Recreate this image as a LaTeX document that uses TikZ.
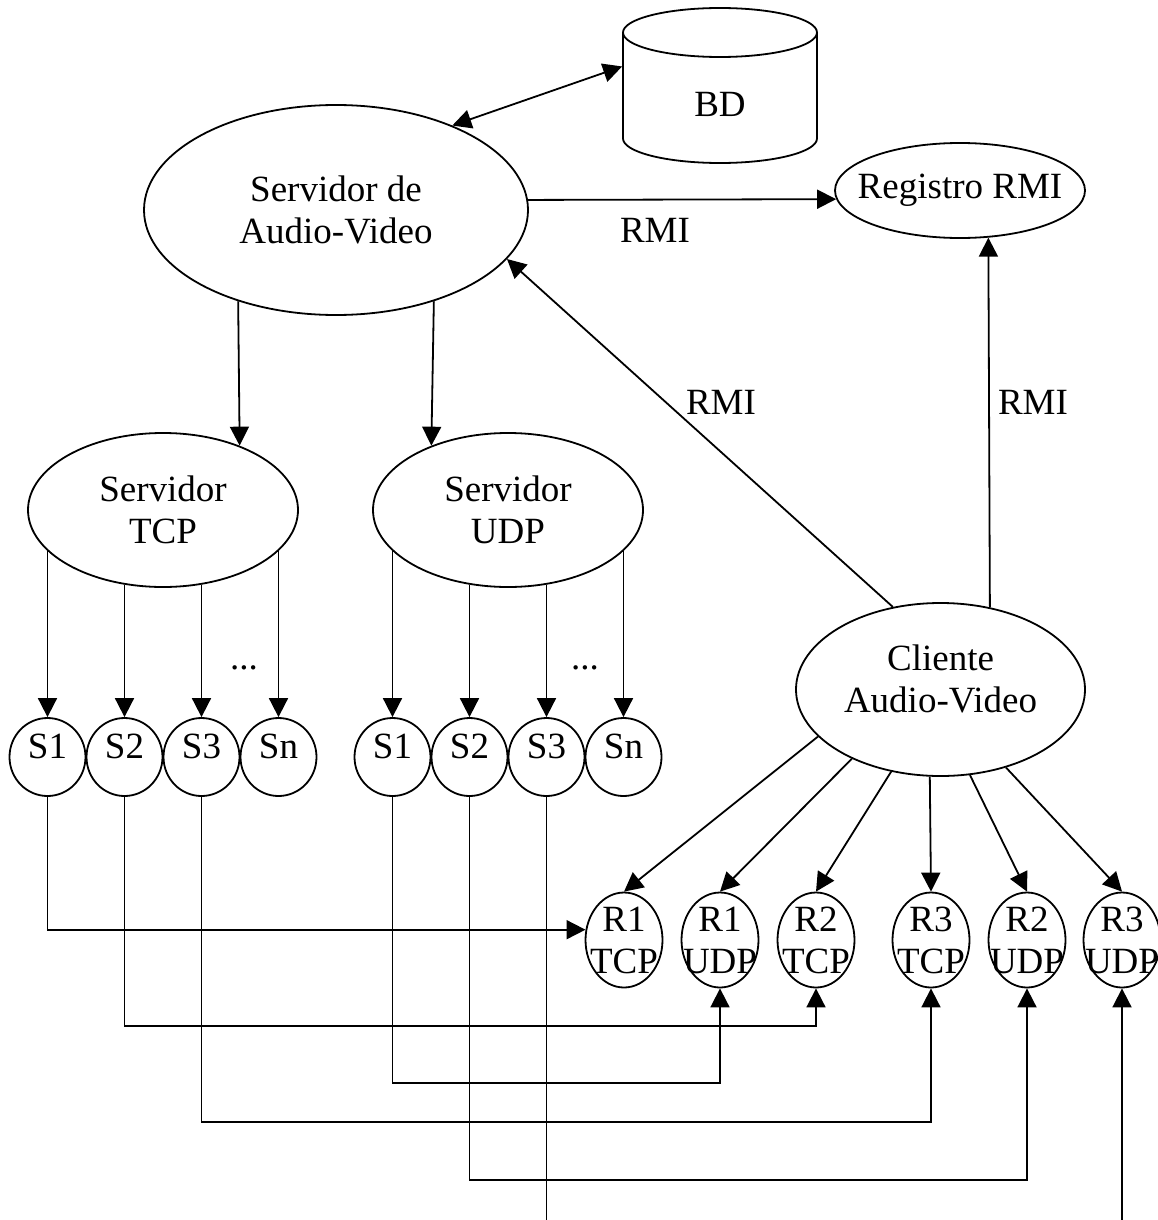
\documentclass[tikz,border=0pt]{standalone}
\usepackage{fontspec}
\setmainfont{Liberation Serif}
\usetikzlibrary{shapes.geometric,arrows.meta}

\tikzset{
  elip/.style={draw, ellipse, inner sep=0pt, align=center},
  snodo/.style={elip, minimum width=38pt, minimum height=39pt, text depth=11pt},
  rnodo/.style={elip, minimum width=38.5pt, minimum height=47.5pt, inner xsep=-5pt},
  flecha/.style={-{Triangle[length=9.5pt,width=9.5pt]}},
  dflecha/.style={{Triangle[length=9.5pt,width=9.5pt]}-{Triangle[length=9.5pt,width=9.5pt]}},
}

\begin{document}
\begin{tikzpicture}[x=0.5pt, y=-0.5pt, line width=0.9pt,
    font=\fontsize{18.5}{21}\selectfont]
  \useasboundingbox (0,0) rectangle (1157,1220);

  % base de datos (cilindro a mano)
  \node[minimum width=97pt, minimum height=77.5pt, inner sep=0pt, text height=30.7pt] (bd) at (720,85.5) {BD};
  \draw (720,32.5) ellipse[x radius=48.5pt, y radius=12.25pt];
  \draw (623,32.5) -- (623,138.5) arc[start angle=180, end angle=360, x radius=48.5pt, y radius=12.25pt] -- (817,32.5);

  % servidores
  \node[elip, minimum width=192pt, minimum height=105pt] (sav) at (336,210) {Servidor de\\Audio-Video};
  \node[elip, minimum width=125pt, minimum height=47.5pt, inner xsep=-7pt] (reg) at (960,190.5) {Registro RMI};
  \node[elip, minimum width=135pt, minimum height=77pt] (tcp) at (163,510) {Servidor\\TCP};
  \node[elip, minimum width=135pt, minimum height=77pt] (udp) at (508,510) {Servidor\\UDP};
  \node[elip, minimum width=144.5pt, minimum height=86.5pt] (cli) at (940.5,689.5)
    {Cliente\\Audio-Video\rule[-10.5pt]{0pt}{10.5pt}};

  % hilos
  \node[snodo] (s1t) at (47.5,757) {S1};
  \node[snodo] (s2t) at (124.5,757) {S2};
  \node[snodo] (s3t) at (201.5,757) {S3};
  \node[snodo] (snt) at (278.5,757) {Sn};
  \node[snodo] (s1u) at (392.5,757) {S1};
  \node[snodo] (s2u) at (469.5,757) {S2};
  \node[snodo] (s3u) at (546.5,757) {S3};
  \node[snodo] (snu) at (623.5,757) {Sn};
  \node (pt) at (244,668) {...};
  \node (pu) at (585,668) {...};

  % receptores
  \node[rnodo] (r1t) at (624,940) {R1\\TCP};
  \node[rnodo] (r1u) at (720,940) {R1\\UDP};
  \node[rnodo] (r2t) at (816,940) {R2\\TCP};
  \node[rnodo] (r3t) at (931,940) {R3\\TCP};
  \node[rnodo] (r2u) at (1027,940) {R2\\UDP};
  \node[rnodo] (r3u) at (1122,940) {R3\\UDP};

  % RMI
  \draw[dflecha] (sav.36.9) -- (bd.169.2);
  \draw[flecha] (sav.3) -- (reg.184.4);
  \node (rmi1) at (655,230) {RMI};
  \draw[flecha] (cli.120.2) -- (sav.344.3);
  \node (rmi2) at (721,402) {RMI};
  \draw[flecha] (cli.59.8) -- (reg.301.2);
  \node (rmi3) at (1033,402) {RMI};

  \draw[flecha] (sav.223) -- (tcp.40);
  \draw[flecha] (sav.317) -- (udp.140);

  \draw[flecha] (s1t.north |- tcp.199) -- (s1t.north);
  \draw[flecha] (s2t.north |- tcp.242.5) -- (s2t.north);
  \draw[flecha] (s3t.north |- tcp.297.5) -- (s3t.north);
  \draw[flecha] (snt.north |- tcp.341) -- (snt.north);
  \draw[flecha] (s1u.north |- udp.199) -- (s1u.north);
  \draw[flecha] (s2u.north |- udp.242.5) -- (s2u.north);
  \draw[flecha] (s3u.north |- udp.297.5) -- (s3u.north);
  \draw[flecha] (snu.north |- udp.341) -- (snu.north);

  \draw[flecha] (cli.201.4) -- (r1t.north);
  \draw[flecha] (cli.218.1) -- (r1u.north);
  \draw[flecha] (cli.239.4) -- (r2t.north);
  \draw[flecha] (cli.263.7) -- (r3t.north);
  \draw[flecha] (cli.289.2) -- (r2u.north);
  \draw[flecha] (cli.310.9) -- (r3u.north);

  % conexiones de abajo
  \coordinate (h1) at (0,1026);
  \coordinate (h2) at (0,1083);
  \coordinate (h3) at (0,1122);
  \coordinate (h4) at (0,1180);
  \coordinate (h5) at (0,1220);
  \draw[flecha] (s1t.south) |- (r1t.165);
  \draw[flecha] (s2t.south) -- (s2t.south |- h1) -| (r2t.south);
  \draw[flecha] (s1u.south) -- (s1u.south |- h2) -| (r1u.south);
  \draw[flecha] (s3t.south) -- (s3t.south |- h3) -| (r3t.south);
  \draw[flecha] (s2u.south) -- (s2u.south |- h4) -| (r2u.south);
  \coordinate (fin1) at (s3u.south |- h5);
  \coordinate (fin2) at (r3u.south |- h5);
  \draw (s3u.south) -- (fin1);
  \draw[flecha] (fin2) -- (r3u.south);
\end{tikzpicture}
\end{document}
